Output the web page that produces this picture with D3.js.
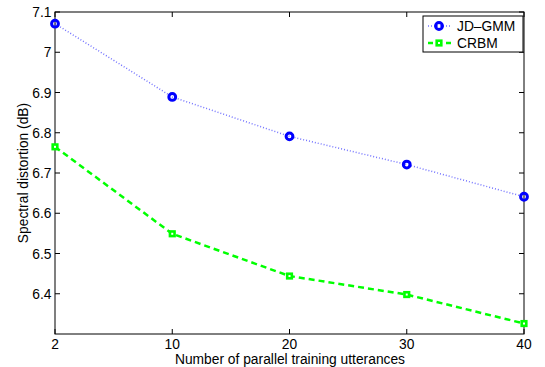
<!DOCTYPE html>
<html lang="en">
<head>
<meta charset="UTF-8">
<title>Spectral distortion</title>
<script src="https://cdnjs.cloudflare.com/ajax/libs/d3/7.8.5/d3.min.js"></script>
<style>
    body { margin: 0; background: #fff; }
    svg { display: block; font-family: "Liberation Sans", Arial, sans-serif; }
</style>
</head>
<body>
<svg width="545" height="367"></svg>
<script>
    // data
    const utterances = ["2", "10", "20", "30", "40"];
    const jdGmm = [7.071, 6.889, 6.791, 6.721, 6.641];
    const crbm = [6.765, 6.549, 6.444, 6.398, 6.326];
    const yTicks = [6.4, 6.5, 6.6, 6.7, 6.8, 6.9, 7.0, 7.1];

    const svg = d3.select("svg");
    const plotL = 55, plotR = 524, plotT = 12, plotB = 334;
    const fs = 13.8;

    const x = d3.scalePoint().domain(utterances).range([plotL, plotR]);
    const y = d3.scaleLinear().domain([6.3, 7.1]).range([plotB, plotT]);

    // axes box with inward ticks on all sides (matlab style)
    const tick = 5;
    const axisG = svg.append("g").attr("stroke", "#000").attr("stroke-width", 1);
    axisG.append("rect")
        .attr("x", plotL).attr("y", plotT)
        .attr("width", plotR - plotL).attr("height", plotB - plotT)
        .attr("fill", "none");

    utterances.forEach(d => {
        axisG.append("line").attr("x1", x(d)).attr("x2", x(d)).attr("y1", plotB).attr("y2", plotB - tick);
        axisG.append("line").attr("x1", x(d)).attr("x2", x(d)).attr("y1", plotT).attr("y2", plotT + tick);
    });
    yTicks.forEach(v => {
        axisG.append("line").attr("x1", plotL).attr("x2", plotL + tick).attr("y1", y(v)).attr("y2", y(v));
        axisG.append("line").attr("x1", plotR).attr("x2", plotR - tick).attr("y1", y(v)).attr("y2", y(v));
    });

    svg.append("g").selectAll("text")
        .data(utterances).enter().append("text")
        .attr("x", d => x(d)).attr("y", 348.5)
        .attr("text-anchor", "middle").attr("font-size", fs)
        .text(d => d);

    svg.append("g").selectAll("text")
        .data(yTicks).enter().append("text")
        .attr("x", plotL - 3.5).attr("y", d => y(d) + 5)
        .attr("text-anchor", "end").attr("font-size", fs)
        .text(d => String(+d.toFixed(1)));

    svg.append("text")
        .attr("x", 290).attr("y", 363.5)
        .attr("text-anchor", "middle").attr("font-size", fs)
        .text("Number of parallel training utterances");

    svg.append("text")
        .attr("transform", `translate(27.5,${(plotT + plotB) / 2}) rotate(-90)`)
        .attr("text-anchor", "middle").attr("font-size", fs)
        .text("Spectral distortion (dB)");

    const line = d3.line().x((d, i) => x(utterances[i])).y(d => y(d));

    // JD-GMM: dotted blue with circles
    svg.append("path").datum(jdGmm)
        .attr("d", line).attr("fill", "none")
        .attr("stroke", "#0000ff").attr("stroke-width", 1.5)
        .attr("stroke-dasharray", "1,2").attr("opacity", 0.55);
    svg.append("g").selectAll("circle")
        .data(jdGmm).enter().append("circle")
        .attr("cx", (d, i) => x(utterances[i])).attr("cy", d => y(d))
        .attr("r", 3.4).attr("fill", "none")
        .attr("stroke", "#0000ff").attr("stroke-width", 3);

    // CRBM: dashed green with squares
    svg.append("path").datum(crbm)
        .attr("d", line).attr("fill", "none")
        .attr("stroke", "#00ff00").attr("stroke-width", 2.5)
        .attr("stroke-dasharray", "6,4");
    svg.append("g").selectAll("rect")
        .data(crbm).enter().append("rect")
        .attr("x", (d, i) => x(utterances[i]) - 2.3).attr("y", d => y(d) - 2.3)
        .attr("width", 4.6).attr("height", 4.6)
        .attr("fill", "#fff").attr("stroke", "#00ff00").attr("stroke-width", 2.6);

    // legend
    const lg = svg.append("g");
    lg.append("rect")
        .attr("x", 423).attr("y", 16).attr("width", 100).attr("height", 36)
        .attr("fill", "#fff").attr("stroke", "#000").attr("stroke-width", 1);

    const ly1 = 26, ly2 = 43;
    lg.append("line").attr("x1", 428).attr("x2", 450).attr("y1", ly1).attr("y2", ly1)
        .attr("stroke", "#0000ff").attr("stroke-width", 1.5)
        .attr("stroke-dasharray", "1,2").attr("opacity", 0.55);
    lg.append("circle").attr("cx", 439).attr("cy", ly1).attr("r", 3.4)
        .attr("fill", "none").attr("stroke", "#0000ff").attr("stroke-width", 3);
    lg.append("text").attr("x", 457).attr("y", ly1 + 5).attr("font-size", fs).text("JD\u2013GMM");

    lg.append("line").attr("x1", 428).attr("x2", 455).attr("y1", ly2).attr("y2", ly2)
        .attr("stroke", "#00ff00").attr("stroke-width", 2.5)
        .attr("stroke-dasharray", "5,4");
    lg.append("rect").attr("x", 436.7).attr("y", ly2 - 2.3).attr("width", 4.6).attr("height", 4.6)
        .attr("fill", "#fff").attr("stroke", "#00ff00").attr("stroke-width", 2.6);
    lg.append("text").attr("x", 457).attr("y", ly2 + 5).attr("font-size", fs).text("CRBM");
</script>
</body>
</html>
